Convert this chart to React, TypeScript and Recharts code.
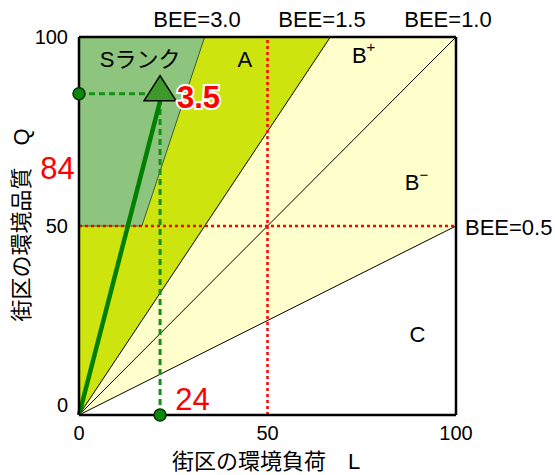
import React from "react";
import {
  Area,
  ComposedChart,
  Line,
  ReferenceLine,
  Scatter,
  XAxis,
  YAxis,
} from "recharts";

const FONT = '"Liberation Sans", Arial, "Noto Sans CJK JP", sans-serif';

const ticks = [0, 50, 100];

// rank regions, as [lower, upper] Q over L
const rankB = [
  { L: 0, range: [0, 100] },
  { L: 100, range: [50, 100] },
];
const rankA = [
  { L: 0, range: [0, 100] },
  { L: 200 / 3, range: [100, 100] },
];
const rankS = [
  { L: 0, range: [50, 100] },
  { L: 50 / 3, range: [50, 100] },
  { L: 100 / 3, range: [100, 100] },
];

// BEE = Q / L lines
const bee05 = [
  { L: 0, Q: 0 },
  { L: 100, Q: 50 },
];
const bee10 = [
  { L: 0, Q: 0 },
  { L: 100, Q: 100 },
];
const bee15 = [
  { L: 0, Q: 0 },
  { L: 200 / 3, Q: 100 },
];

// evaluated point
const pointL = 21.5;
const pointQ = 85;
const arrow = [
  { L: 0, Q: 0 },
  { L: pointL, Q: pointQ - 2 },
];
const guideH = [
  { L: 0, Q: pointQ },
  { L: pointL, Q: pointQ },
];
const guideV = [
  { L: pointL, Q: 0 },
  { L: pointL, Q: pointQ },
];
const axisDots = [
  { L: 0, Q: pointQ },
  { L: pointL, Q: 0 },
];
const tip = [{ L: pointL, Q: pointQ }];

const rankLabels = [
  { L: 16.2, Q: 94.1, text: "Sランク", sup: "" },
  { L: 44, Q: 94, text: "A", sup: "" },
  { L: 75.5, Q: 95.2, text: "B", sup: "+" },
  { L: 89.5, Q: 61.5, text: "B", sup: "−" },
  { L: 89.8, Q: 21.2, text: "C", sup: "" },
];
const valueLabels = [
  { L: 31.7, Q: 84, text: "3.5", halo: true },
  { L: 30.1, Q: 4, text: "24", halo: false },
];

const RankLabel = (props: any) => {
  const { cx, cy, payload } = props;
  return (
    <text
      x={cx}
      y={cy}
      textAnchor="middle"
      dominantBaseline="central"
      fontFamily={FONT}
      fontSize={22}
      fill="#000"
    >
      {payload.text}
      {payload.sup ? (
        <tspan fontSize={15} dy={-9}>
          {payload.sup}
        </tspan>
      ) : null}
    </text>
  );
};

const ValueLabel = (props: any) => {
  const { cx, cy, payload } = props;
  return (
    <text
      x={cx}
      y={cy}
      textAnchor="middle"
      dominantBaseline="central"
      fontFamily={FONT}
      fontSize={31}
      fontWeight={payload.halo ? "bold" : "normal"}
      fill="#ff0000"
      stroke={payload.halo ? "#fff" : "none"}
      strokeWidth={payload.halo ? 4 : 0}
      paintOrder="stroke"
    >
      {payload.text}
    </text>
  );
};

const Triangle = (props: any) => {
  const { cx, cy } = props;
  return (
    <polygon
      points={`${cx},${cy - 18} ${cx - 16},${cy + 7} ${cx + 16},${cy + 7}`}
      fill="#3d9a2a"
      stroke="#000"
      strokeWidth={1.5}
    />
  );
};

const Dot = (props: any) => {
  const { cx, cy } = props;
  return <circle cx={cx} cy={cy} r={6} fill="#0b870b" stroke="#003300" strokeWidth={1.5} />;
};

const YTick = (props: any) => {
  const { x, y, payload } = props;
  return (
    <text
      x={x}
      y={payload.value === 0 ? y - 10 : y}
      textAnchor="end"
      dominantBaseline="central"
      fontFamily={FONT}
      fontSize={20}
      fill="#000"
    >
      {payload.value}
    </text>
  );
};

export default function App() {
  return (
    <div style={{ position: "relative", width: 555, height: 475, background: "#fff" }}>
      <style>{"body{margin:0}"}</style>
      <ComposedChart
        width={555}
        height={475}
        margin={{ top: 37, right: 99, bottom: 0, left: 0 }}
      >
        <XAxis
          dataKey="L"
          type="number"
          domain={[0, 100]}
          ticks={ticks}
          height={60}
          axisLine={false}
          tickLine={false}
          tickMargin={5}
          tick={{ fill: "#000", fontSize: 20, fontFamily: FONT }}
        />
        <YAxis
          type="number"
          domain={[0, 100]}
          ticks={ticks}
          width={79}
          axisLine={false}
          tickLine={false}
          tickMargin={5}
          tick={<YTick />}
        />
        <Area
          data={rankB}
          dataKey="range"
          type="linear"
          fill="#ffffcc"
          fillOpacity={1}
          stroke="none"
          isAnimationActive={false}
        />
        <Area
          data={rankA}
          dataKey="range"
          type="linear"
          fill="#cde40e"
          fillOpacity={1}
          stroke="none"
          isAnimationActive={false}
        />
        <Area
          data={rankS}
          dataKey="range"
          type="linear"
          fill="#8dc47e"
          fillOpacity={1}
          stroke="#3d5e35"
          strokeWidth={1}
          isAnimationActive={false}
        />
        <Line data={bee05} dataKey="Q" type="linear" stroke="#000" strokeWidth={1} dot={false} isAnimationActive={false} />
        <Line data={bee10} dataKey="Q" type="linear" stroke="#000" strokeWidth={1} dot={false} isAnimationActive={false} />
        <Line data={bee15} dataKey="Q" type="linear" stroke="#000" strokeWidth={1} dot={false} isAnimationActive={false} />
        <ReferenceLine x={50} stroke="#ff0000" strokeWidth={2.5} strokeDasharray="3 3" />
        <ReferenceLine y={50} stroke="#ff0000" strokeWidth={2.5} strokeDasharray="3 3" />
        <Line data={guideH} dataKey="Q" type="linear" stroke="#168f16" strokeWidth={3} strokeDasharray="6 4" dot={false} isAnimationActive={false} />
        <Line data={guideV} dataKey="Q" type="linear" stroke="#168f16" strokeWidth={3} strokeDasharray="6 4" dot={false} isAnimationActive={false} />
        <Line data={arrow} dataKey="Q" type="linear" stroke="#008000" strokeWidth={4.5} dot={false} isAnimationActive={false} />
        <ReferenceLine x={0} stroke="#000" strokeWidth={2.5} />
        <ReferenceLine x={100} stroke="#000" strokeWidth={2.5} />
        <ReferenceLine y={0} stroke="#000" strokeWidth={2.5} />
        <ReferenceLine y={100} stroke="#000" strokeWidth={2.5} />
        <Scatter data={tip} dataKey="Q" shape={<Triangle />} isAnimationActive={false} />
        <Scatter data={axisDots} dataKey="Q" shape={<Dot />} isAnimationActive={false} />
        <Scatter data={rankLabels} dataKey="Q" shape={<RankLabel />} isAnimationActive={false} />
        <Scatter data={valueLabels} dataKey="Q" shape={<ValueLabel />} isAnimationActive={false} />
      </ComposedChart>
      <svg
        width={555}
        height={475}
        style={{ position: "absolute", left: 0, top: 0, pointerEvents: "none" }}
        fontFamily={FONT}
      >
        <text x={197} y={27} textAnchor="middle" fontSize={22}>BEE=3.0</text>
        <text x={322} y={27} textAnchor="middle" fontSize={22}>BEE=1.5</text>
        <text x={448} y={27} textAnchor="middle" fontSize={22}>BEE=1.0</text>
        <text x={465} y={235} fontSize={22}>BEE=0.5</text>
        <text x={57.5} y={179} textAnchor="middle" fontSize={31} fill="#ff0000">84</text>
        <text x={266} y={469} textAnchor="middle" fontSize={22}>街区の環境負荷　L</text>
        <text
          x={0}
          y={0}
          transform="translate(29 225) rotate(-90)"
          textAnchor="middle"
          fontSize={22}
        >
          街区の環境品質　Q
        </text>
      </svg>
    </div>
  );
}
